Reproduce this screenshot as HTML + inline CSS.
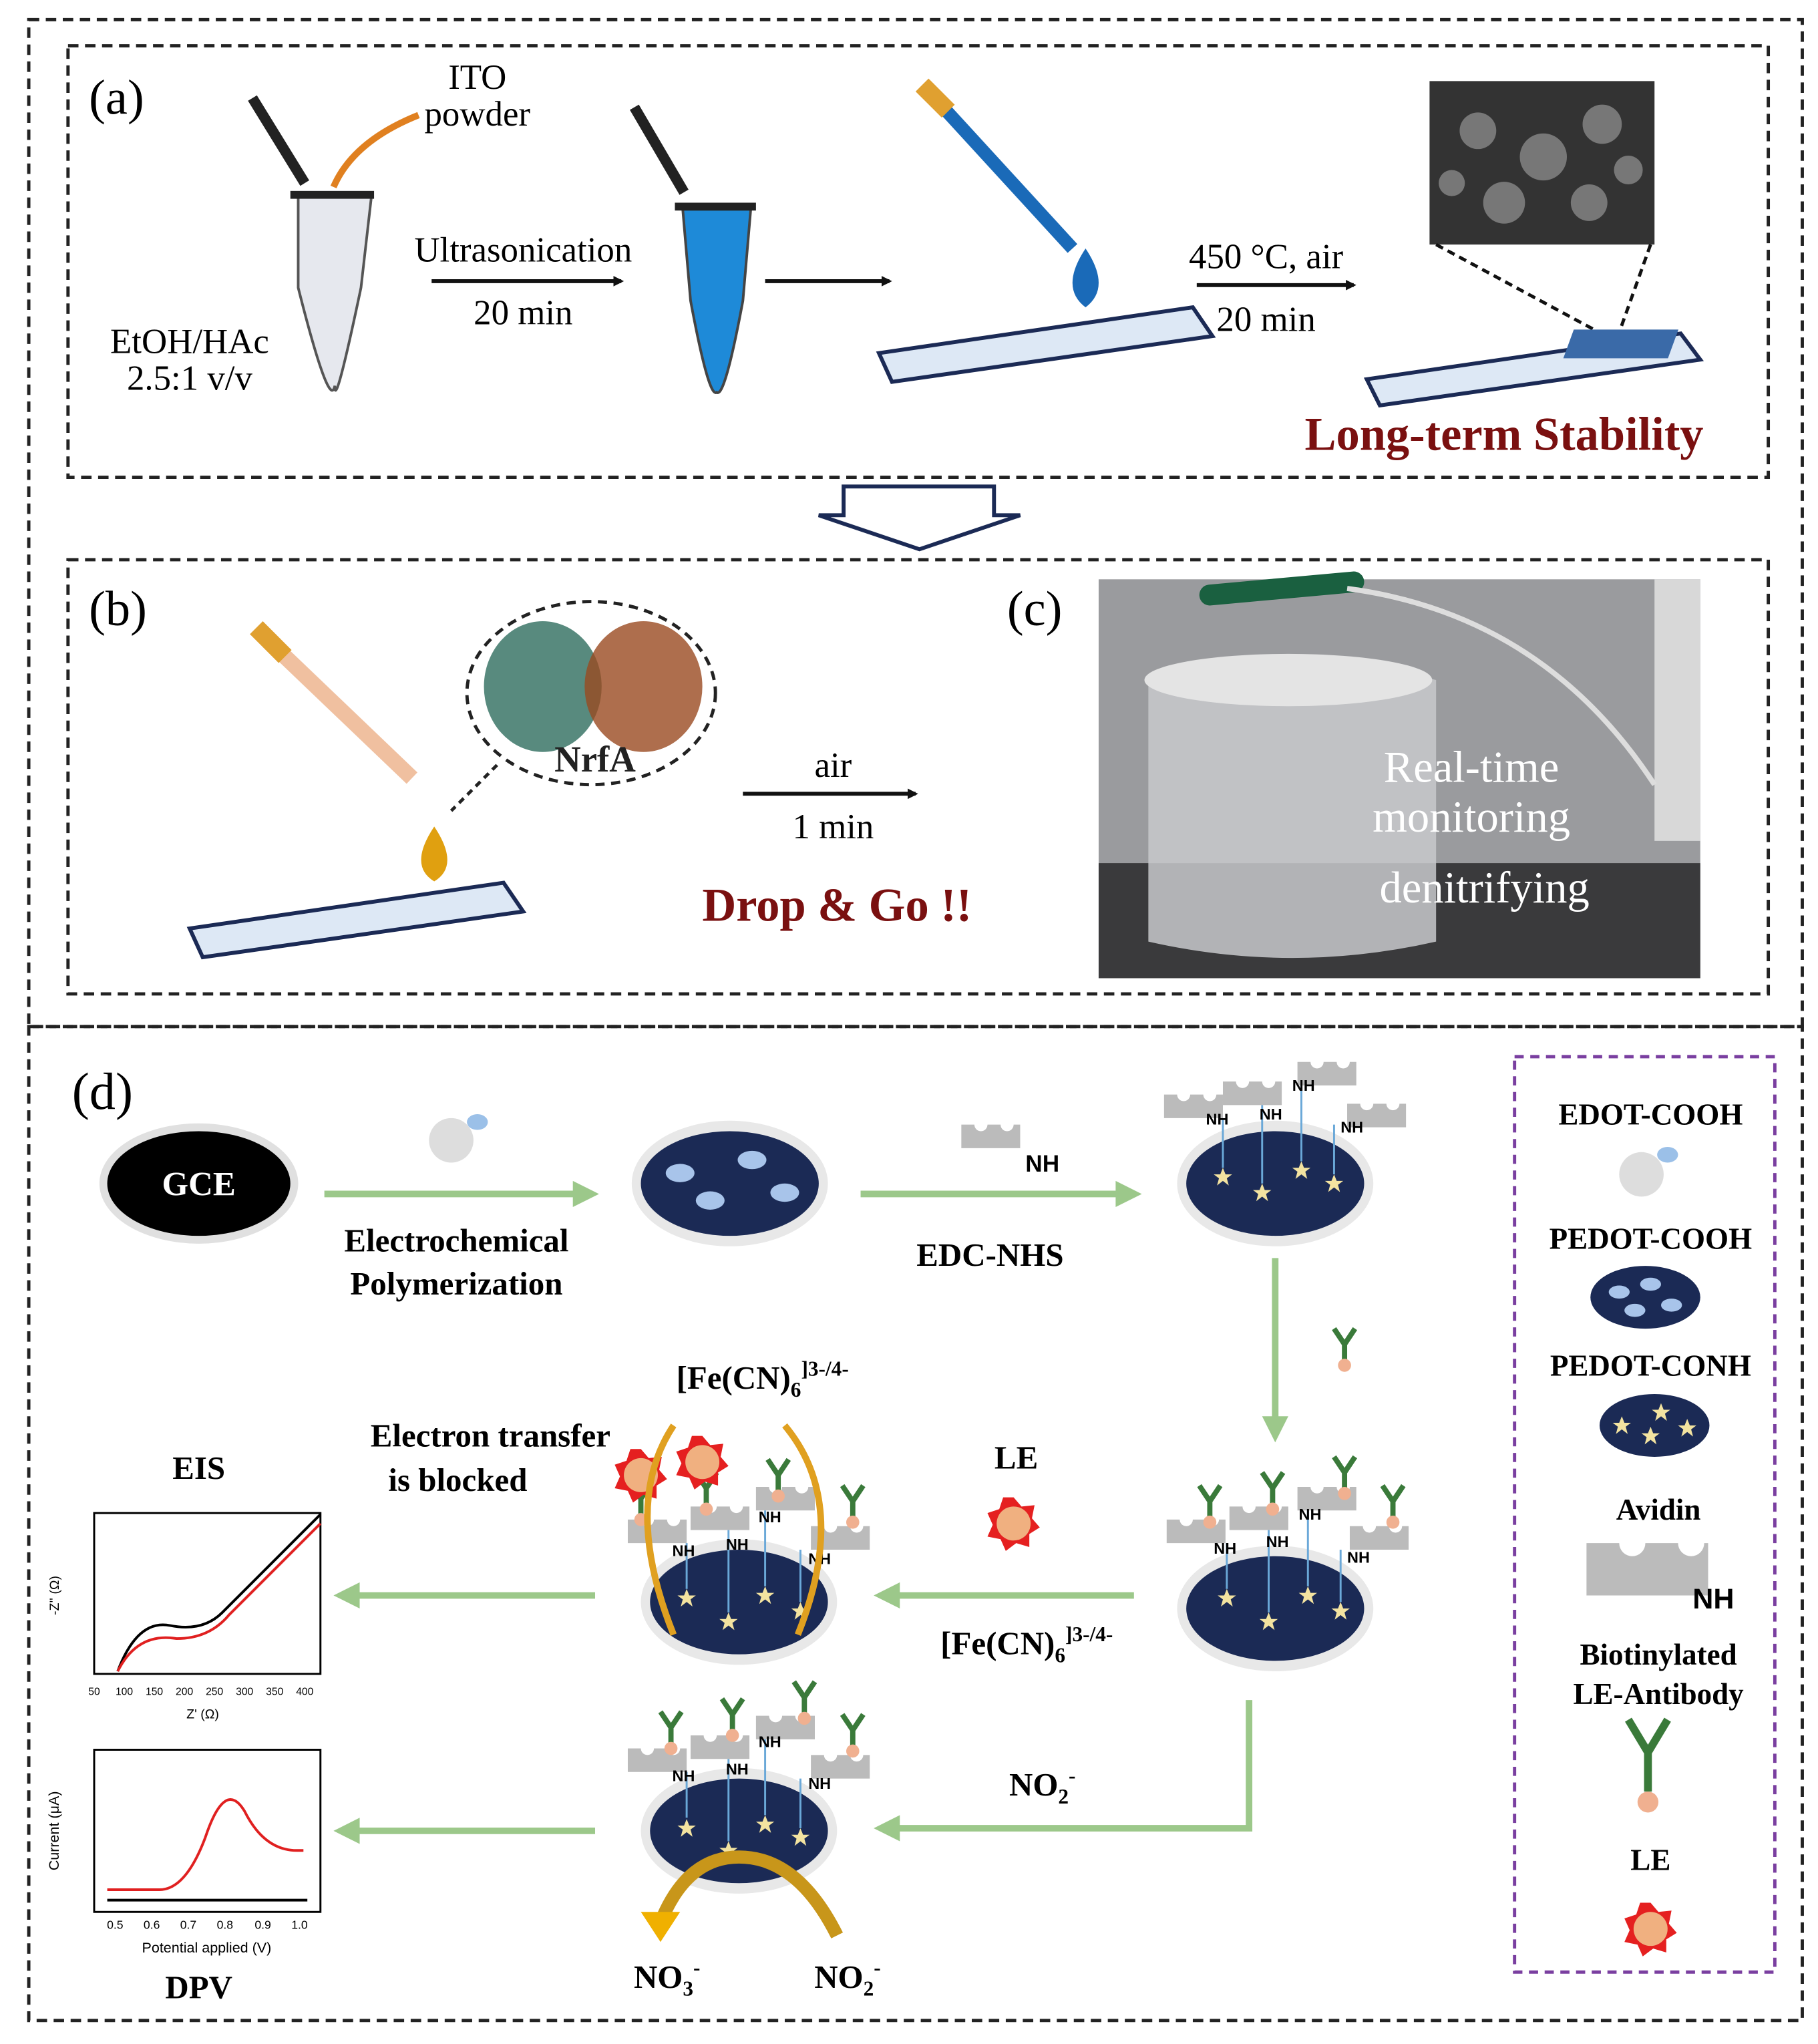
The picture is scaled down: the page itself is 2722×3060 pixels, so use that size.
<!DOCTYPE html>
<html><head><meta charset="utf-8"><style>html,body{margin:0;padding:0;background:#fff}svg{display:block}</style></head>
<body>
<svg width="2722" height="3060" viewBox="0 0 1390 1563" preserveAspectRatio="none" xmlns="http://www.w3.org/2000/svg" font-family="Liberation Serif, serif">
<defs>
<marker id="ah" markerWidth="8" markerHeight="8" refX="6" refY="4" orient="auto" markerUnits="userSpaceOnUse"><path d="M0,0 L8,4 L0,8 z" fill="#111"/></marker>
<g id="star"><polygon points="0,-7 2,-2 7,-2 3,1 4.5,6.5 0,3 -4.5,6.5 -3,1 -7,-2 -2,-2" fill="#f3e3a0"/></g>
<g id="ab"><path d="M0,0 v-14 M-8,-26 L0,-14 L8,-26" stroke="#3a7a3a" stroke-width="4" fill="none"/><circle cx="0" cy="2" r="5" fill="#f0b090"/></g>
<g id="avd"><path d="M-20,-8 h10 a5,5 0 0 0 10,0 h10 a5,5 0 0 0 10,0 h5 v18 h-45 z" fill="#bbb"/></g>
<g id="le"><polygon points="0,-20 6,-13 16,-14 14,-4 20,3 12,8 12,18 2,15 -6,21 -10,12 -20,10 -16,1 -20,-8 -11,-11 -8,-20" fill="#e52020"/><circle r="13" fill="#f0b080"/></g>
<g id="el"><ellipse rx="75" ry="48" fill="#e8e8e8"/><ellipse rx="68" ry="40" fill="#1b2a55"/></g>
</defs>
<g fill="none" stroke="#222" stroke-width="2.5" stroke-dasharray="8,5">
<rect x="22" y="15" width="1356" height="770"/>
<rect x="22" y="785" width="1356" height="760"/>
<rect x="52" y="35" width="1300" height="330"/>
<rect x="52" y="428" width="1300" height="332"/>
</g>
<rect x="1158" y="808" width="199" height="700" fill="none" stroke="#7a3fa0" stroke-width="2.5" stroke-dasharray="7,5"/>
<path d="M645,372 h115 v22 h20 l-77,26 l-77,-26 h19 z" fill="#fff" stroke="#1b2a55" stroke-width="3"/>
<text x="68" y="87" font-size="38">(a)</text>
<text x="365" y="68" font-size="27" text-anchor="middle">ITO</text>
<text x="365" y="96" font-size="27" text-anchor="middle">powder</text>
<path d="M228,150 h56 l-8,70 q-20,95 -20,75 q-4,20 -28,-75 z" fill="#e6e8ee" stroke="#555" stroke-width="2"/>
<rect x="222" y="146" width="64" height="6" fill="#222"/>
<path d="M193,75 l40,65" stroke="#222" stroke-width="8"/>
<path d="M320,88 q-50,20 -65,55" stroke="#e08020" stroke-width="5" fill="none"/>
<text x="145" y="270" font-size="27" text-anchor="middle">EtOH/HAc</text>
<text x="145" y="298" font-size="27" text-anchor="middle">2.5:1 v/v</text>
<text x="400" y="200" font-size="27" text-anchor="middle">Ultrasonication</text>
<line x1="330" y1="215" x2="475" y2="215" stroke="#111" stroke-width="3" marker-end="url(#ah)"/>
<text x="400" y="248" font-size="27" text-anchor="middle">20 min</text>
<path d="M522,160 h52 l-6,70 q-14,75 -20,70 q-6,5 -20,-70 z" fill="#1e8ad8" stroke="#444" stroke-width="2"/>
<rect x="516" y="155" width="62" height="6" fill="#222"/>
<path d="M485,82 l38,65" stroke="#222" stroke-width="8"/>
<line x1="585" y1="215" x2="680" y2="215" stroke="#111" stroke-width="3" marker-end="url(#ah)"/>
<path d="M710,70 l110,120" stroke="#1a6ab8" stroke-width="10"/>
<path d="M705,65 l20,20" stroke="#e0a030" stroke-width="14"/>
<path d="M830,190 q-20,30 0,45 q20,-15 0,-45z" fill="#1a6ab8"/>
<path d="M672,270 l240,-35 l15,22 l-245,35 z" fill="#dde8f5" stroke="#1b2a55" stroke-width="3"/>
<text x="968" y="205" font-size="27" text-anchor="middle">450 °C, air</text>
<line x1="915" y1="218" x2="1035" y2="218" stroke="#111" stroke-width="3" marker-end="url(#ah)"/>
<text x="968" y="253" font-size="27" text-anchor="middle">20 min</text>
<rect x="1093" y="62" width="172" height="125" fill="#333"/>
<g fill="#777"><circle cx="1130" cy="100" r="14"/><circle cx="1180" cy="120" r="18"/><circle cx="1225" cy="95" r="15"/><circle cx="1150" cy="155" r="16"/><circle cx="1215" cy="155" r="14"/><circle cx="1110" cy="140" r="10"/><circle cx="1245" cy="130" r="11"/></g>
<path d="M1098,187 l130,70 M1262,187 l-25,70" stroke="#111" stroke-width="2.5" stroke-dasharray="6,4"/>
<path d="M1045,290 l240,-35 l15,20 l-245,35 z" fill="#dde8f5" stroke="#1b2a55" stroke-width="3"/>
<rect x="1200" y="252" width="80" height="22" fill="#3a6aa8" transform="skewX(-20) translate(95,0)"/>
<text x="1150" y="344" font-size="36" font-weight="bold" fill="#7a1010" text-anchor="middle">Long-term Stability</text>
<text x="68" y="478" font-size="38">(b)</text>
<path d="M200,485 l115,110" stroke="#f0c0a0" stroke-width="12"/>
<path d="M196,480 l22,22" stroke="#e0a030" stroke-width="14"/>
<ellipse cx="452" cy="530" rx="95" ry="70" fill="#fff" stroke="#222" stroke-width="2.5" stroke-dasharray="7,5"/>
<ellipse cx="415" cy="525" rx="45" ry="50" fill="#2e6d5e" opacity=".8"/>
<ellipse cx="492" cy="525" rx="45" ry="50" fill="#9a4a20" opacity=".8"/>
<text x="455" y="590" font-size="28" font-weight="bold" text-anchor="middle" fill="#222">NrfA</text>
<path d="M380,585 l-35,35" stroke="#222" stroke-width="2.5" stroke-dasharray="5,4"/>
<path d="M332,632 q-20,30 0,42 q20,-12 0,-42z" fill="#e0a010"/>
<path d="M145,710 l240,-35 l15,22 l-245,35 z" fill="#dde8f5" stroke="#1b2a55" stroke-width="3"/>
<text x="637" y="594" font-size="27" text-anchor="middle">air</text>
<line x1="568" y1="607" x2="700" y2="607" stroke="#111" stroke-width="3" marker-end="url(#ah)"/>
<text x="637" y="641" font-size="27" text-anchor="middle">1 min</text>
<text x="640" y="704" font-size="36" font-weight="bold" fill="#7a1010" text-anchor="middle">Drop &amp; Go !!</text>
<text x="770" y="478" font-size="38">(c)</text>
<rect x="840" y="443" width="460" height="305" fill="#9a9b9e"/>
<rect x="840" y="660" width="460" height="88" fill="#3a3a3c"/>
<rect x="1265" y="443" width="35" height="200" fill="#d8d8d8"/>
<path d="M878,520 q100,-30 220,0 v200 q-110,25 -220,0 z" fill="#c8c9cb" opacity=".85"/>
<ellipse cx="985" cy="520" rx="110" ry="20" fill="#e4e4e4"/>
<path d="M925,455 l110,-10" stroke="#1a6040" stroke-width="16" stroke-linecap="round"/>
<path d="M1030,450 q150,20 235,150" stroke="#ddd" stroke-width="4" fill="none"/>
<text x="1125" y="598" font-size="34" fill="#fff" text-anchor="middle">Real-time</text>
<text x="1125" y="636" font-size="34" fill="#fff" text-anchor="middle">monitoring</text>
<text x="1135" y="690" font-size="34" fill="#fff" text-anchor="middle">denitrifying</text>
<text x="55" y="848" font-size="40">(d)</text>
<ellipse cx="152" cy="905" rx="76" ry="46" fill="#e0e0e0"/><ellipse cx="152" cy="905" rx="70" ry="40" fill="#000"/>
<text x="152" y="914" font-size="26" font-weight="bold" fill="#fff" text-anchor="middle">GCE</text>
<circle cx="345" cy="872" r="17" fill="#ddd"/><ellipse cx="365" cy="858" rx="8" ry="6" fill="#9bc0e8"/>
<g stroke="#9cc88a" stroke-width="5" fill="none">
<line x1="248" y1="913" x2="440" y2="913"/><line x1="658" y1="913" x2="855" y2="913"/>
<line x1="975" y1="962" x2="975" y2="1085"/><line x1="867" y1="1220" x2="685" y2="1220"/>
<line x1="455" y1="1220" x2="272" y2="1220"/><polyline points="955,1300 955,1398 685,1398"/>
<line x1="455" y1="1400" x2="272" y2="1400"/>
</g>
<g fill="#9cc88a">
<polygon points="458,913 438,903 438,923"/><polygon points="873,913 853,903 853,923"/>
<polygon points="975,1103 965,1083 985,1083"/><polygon points="668,1220 688,1210 688,1230"/>
<polygon points="255,1220 275,1210 275,1230"/><polygon points="668,1398 688,1388 688,1408"/>
<polygon points="255,1400 275,1390 275,1410"/>
</g>
<text x="349" y="957" font-size="25" font-weight="bold" text-anchor="middle">Electrochemical</text>
<text x="349" y="990" font-size="25" font-weight="bold" text-anchor="middle">Polymerization</text>
<use href="#el" x="558" y="905"/>
<g fill="#a8c4ea"><ellipse cx="520" cy="897" rx="11" ry="7"/><ellipse cx="575" cy="887" rx="11" ry="7"/><ellipse cx="543" cy="918" rx="11" ry="7"/><ellipse cx="600" cy="912" rx="11" ry="7"/></g>
<use href="#avd" x="755" y="868"/><text x="797" y="896" font-size="18" font-weight="bold" font-family="Liberation Sans, sans-serif" text-anchor="middle">NH</text>
<text x="757" y="968" font-size="25" font-weight="bold" text-anchor="middle">EDC-NHS</text>
<use href="#el" x="975" y="905"/>
<g><use href="#star" x="935" y="900"/><use href="#star" x="965" y="912"/><use href="#star" x="995" y="895"/><use href="#star" x="1020" y="905"/></g>
<g stroke="#6aa8d8" stroke-width="1.5"><line x1="935" y1="893" x2="935" y2="855"/><line x1="965" y1="905" x2="965" y2="845"/><line x1="995" y1="888" x2="995" y2="830"/><line x1="1020" y1="898" x2="1020" y2="860"/></g>
<use href="#avd" x="910" y="845"/><use href="#avd" x="955" y="835"/><use href="#avd" x="1012" y="820"/><use href="#avd" x="1050" y="852"/>
<g font-family="Liberation Sans, sans-serif" font-size="12" font-weight="bold"><text x="922" y="860">NH</text><text x="963" y="856">NH</text><text x="988" y="834">NH</text><text x="1025" y="866">NH</text></g>
<use href="#ab" x="1028" y="1042"/>
<use href="#el" x="975" y="1230"/>
<g><use href="#star" x="938" y="1222"/><use href="#star" x="970" y="1240"/><use href="#star" x="1000" y="1220"/><use href="#star" x="1025" y="1232"/></g>
<g stroke="#6aa8d8" stroke-width="1.5"><line x1="938" y1="1215" x2="938" y2="1180"/><line x1="970" y1="1233" x2="970" y2="1170"/><line x1="1000" y1="1213" x2="1000" y2="1155"/><line x1="1025" y1="1225" x2="1025" y2="1185"/></g>
<use href="#avd" x="912" y="1170"/><use href="#avd" x="960" y="1160"/><use href="#avd" x="1012" y="1145"/><use href="#avd" x="1052" y="1175"/>
<g font-family="Liberation Sans, sans-serif" font-size="12" font-weight="bold"><text x="928" y="1188">NH</text><text x="968" y="1183">NH</text><text x="993" y="1162">NH</text><text x="1030" y="1195">NH</text></g>
<use href="#ab" x="925" y="1162"/><use href="#ab" x="973" y="1152"/><use href="#ab" x="1028" y="1140"/><use href="#ab" x="1065" y="1162"/>
<text x="777" y="1123" font-size="25" font-weight="bold" text-anchor="middle">LE</text>
<use href="#le" x="775" y="1165"/>
<text x="785" y="1265" font-size="25" font-weight="bold" text-anchor="middle">[Fe(CN)<tspan font-size="16" dy="6">6</tspan><tspan font-size="16" dy="-16">]3-/4-</tspan></text>
<use href="#el" x="565" y="1225"/>
<g><use href="#star" x="525" y="1222"/><use href="#star" x="557" y="1240"/><use href="#star" x="585" y="1220"/><use href="#star" x="612" y="1232"/></g>
<g stroke="#6aa8d8" stroke-width="1.5"><line x1="525" y1="1215" x2="525" y2="1180"/><line x1="557" y1="1233" x2="557" y2="1170"/><line x1="585" y1="1213" x2="585" y2="1155"/><line x1="612" y1="1225" x2="612" y2="1185"/></g>
<use href="#avd" x="500" y="1170"/><use href="#avd" x="548" y="1160"/><use href="#avd" x="598" y="1145"/><use href="#avd" x="640" y="1175"/>
<g font-family="Liberation Sans, sans-serif" font-size="12" font-weight="bold"><text x="514" y="1190">NH</text><text x="555" y="1185">NH</text><text x="580" y="1164">NH</text><text x="618" y="1196">NH</text></g>
<use href="#ab" x="540" y="1152"/><use href="#ab" x="595" y="1142"/><use href="#ab" x="652" y="1162"/><use href="#ab" x="490" y="1160"/>
<use href="#le" x="490" y="1128"/><use href="#le" x="537" y="1118"/>
<path d="M515,1090 q-40,60 0,160" stroke="#e0a020" stroke-width="5" fill="none"/>
<path d="M600,1090 q50,60 10,160" stroke="#e0a020" stroke-width="5" fill="none"/>
<text x="583" y="1062" font-size="25" font-weight="bold" text-anchor="middle">[Fe(CN)<tspan font-size="16" dy="6">6</tspan><tspan font-size="16" dy="-16">]3-/4-</tspan></text>
<text x="375" y="1106" font-size="25" font-weight="bold" text-anchor="middle">Electron transfer</text>
<text x="350" y="1140" font-size="25" font-weight="bold" text-anchor="middle">is blocked</text>
<text x="152" y="1131" font-size="25" font-weight="bold" text-anchor="middle">EIS</text>
<rect x="72" y="1157" width="173" height="123" fill="#fff" stroke="#000" stroke-width="1.5"/>
<path d="M90,1278 q15,-40 40,-35 q25,5 40,-10 l75,-75" stroke="#000" stroke-width="2" fill="none"/>
<path d="M90,1278 q15,-30 45,-25 q25,0 40,-18 l70,-70" stroke="#e02020" stroke-width="2" fill="none"/>
<g font-family="Liberation Sans, sans-serif" font-size="8" text-anchor="middle"><text x="72" y="1296">50</text><text x="95" y="1296">100</text><text x="118" y="1296">150</text><text x="141" y="1296">200</text><text x="164" y="1296">250</text><text x="187" y="1296">300</text><text x="210" y="1296">350</text><text x="233" y="1296">400</text><text x="155" y="1314" font-size="10">Z' (Ω)</text>
<text x="45" y="1220" font-size="10" transform="rotate(-90 45 1220)">-Z'' (Ω)</text></g>
<rect x="72" y="1338" width="173" height="124" fill="#fff" stroke="#000" stroke-width="1.5"/>
<line x1="82" y1="1453" x2="235" y2="1453" stroke="#000" stroke-width="2"/>
<path d="M82,1445 h40 q20,0 35,-40 q15,-45 30,-20 q15,30 40,30 h5" stroke="#e02020" stroke-width="2" fill="none"/>
<g font-family="Liberation Sans, sans-serif" font-size="9" text-anchor="middle"><text x="88" y="1475">0.5</text><text x="116" y="1475">0.6</text><text x="144" y="1475">0.7</text><text x="172" y="1475">0.8</text><text x="201" y="1475">0.9</text><text x="229" y="1475">1.0</text><text x="158" y="1493" font-size="11">Potential applied (V)</text>
<text x="45" y="1400" font-size="11" transform="rotate(-90 45 1400)">Current (μA)</text></g>
<text x="152" y="1528" font-size="25" font-weight="bold" text-anchor="middle">DPV</text>
<use href="#el" x="565" y="1400"/>
<g><use href="#star" x="525" y="1398"/><use href="#star" x="557" y="1415"/><use href="#star" x="585" y="1395"/><use href="#star" x="612" y="1405"/></g>
<g stroke="#6aa8d8" stroke-width="1.5"><line x1="525" y1="1390" x2="525" y2="1355"/><line x1="557" y1="1408" x2="557" y2="1345"/><line x1="585" y1="1388" x2="585" y2="1330"/><line x1="612" y1="1398" x2="612" y2="1360"/></g>
<use href="#avd" x="500" y="1345"/><use href="#avd" x="548" y="1335"/><use href="#avd" x="598" y="1320"/><use href="#avd" x="640" y="1350"/>
<g font-family="Liberation Sans, sans-serif" font-size="12" font-weight="bold"><text x="514" y="1362">NH</text><text x="555" y="1357">NH</text><text x="580" y="1336">NH</text><text x="618" y="1368">NH</text></g>
<use href="#ab" x="513" y="1335"/><use href="#ab" x="560" y="1325"/><use href="#ab" x="615" y="1312"/><use href="#ab" x="652" y="1337"/>
<text x="797" y="1373" font-size="25" font-weight="bold" text-anchor="middle">NO<tspan font-size="16" dy="6">2</tspan><tspan font-size="16" dy="-16">-</tspan></text>
<path d="M640,1480 q-30,-60 -75,-60 q-40,0 -60,50" stroke="#c8961a" stroke-width="10" fill="none"/>
<polygon points="490,1462 520,1462 505,1485" fill="#f0b000"/>
<text x="510" y="1520" font-size="25" font-weight="bold" text-anchor="middle">NO<tspan font-size="16" dy="6">3</tspan><tspan font-size="16" dy="-16">-</tspan></text>
<text x="648" y="1520" font-size="25" font-weight="bold" text-anchor="middle">NO<tspan font-size="16" dy="6">2</tspan><tspan font-size="16" dy="-16">-</tspan></text>
<g font-size="23" font-weight="bold" text-anchor="middle">
<text x="1262" y="860">EDOT-COOH</text><text x="1262" y="955">PEDOT-COOH</text><text x="1262" y="1052">PEDOT-CONH</text>
<text x="1268" y="1162">Avidin</text><text x="1268" y="1273">Biotinylated</text><text x="1268" y="1303">LE-Antibody</text><text x="1262" y="1430">LE</text></g>
<circle cx="1255" cy="898" r="17" fill="#ddd"/><ellipse cx="1275" cy="883" rx="8" ry="6" fill="#9bc0e8"/>
<ellipse cx="1258" cy="992" rx="42" ry="24" fill="#1b2a55"/>
<g fill="#a8c4ea"><ellipse cx="1238" cy="988" rx="8" ry="5"/><ellipse cx="1262" cy="982" rx="8" ry="5"/><ellipse cx="1250" cy="1002" rx="8" ry="5"/><ellipse cx="1278" cy="998" rx="8" ry="5"/></g>
<ellipse cx="1265" cy="1090" rx="42" ry="24" fill="#1b2a55"/>
<use href="#star" x="1240" y="1090"/><use href="#star" x="1262" y="1098"/><use href="#star" x="1270" y="1080"/><use href="#star" x="1290" y="1092"/>
<path d="M1213,1180 h25 a10,10 0 0 0 20,0 h25 a10,10 0 0 0 20,0 h3 v40 h-93 z" fill="#bbb"/>
<text x="1310" y="1230" font-size="22" font-weight="bold" text-anchor="middle" font-family="Liberation Sans, sans-serif">NH</text>
<path d="M1260,1370 v-30 M1245,1315 L1260,1340 L1275,1315" stroke="#3a7a3a" stroke-width="6" fill="none"/><circle cx="1260" cy="1378" r="8" fill="#f0b090"/>
<use href="#le" x="1262" y="1475"/>
</svg>
</body></html>
